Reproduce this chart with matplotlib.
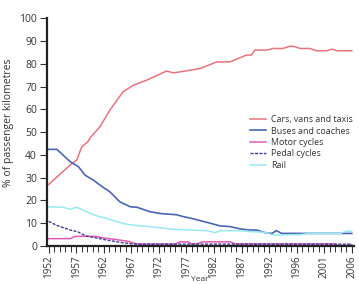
import matplotlib.pyplot as plt
import matplotlib.ticker as mticker

plt.rcParams['font.family'] = ['Open Sans', 'DejaVu Sans']

# x positions are year slots (0 = 1952 ... 55 = 2006)
tick_labels = ['1952', '1957', '1962', '1967', '1972', '1977', '1982',
               '1987', '1992', '1996', '2001', '2006']

cars_x = [0, 3.9, 5.1, 6, 7.1, 7.5, 9.3, 11.1, 13.5, 15.4, 17.8, 21.4, 22.6, 23.8,
          27.5, 30.5, 32.9, 35.9, 36.8, 37.4, 39.6, 40.7, 42.5, 43.8, 44.7, 45.6,
          47.4, 48.6, 50.5, 51.4, 52.3, 55]
cars_y = [27, 35.5, 37.7, 43.5, 45.7, 47.4, 52.3, 59.6, 67.7, 70.6, 72.8, 76.8, 76, 76.4,
          77.9, 80.8, 80.8, 83.8, 83.8, 86, 86, 86.7, 86.7, 87.7, 87.5, 86.7,
          86.7, 85.7, 85.7, 86.4, 85.7, 85.7]

buses_x = [0, 1.5, 3.9, 5.4, 6.6, 8.1, 9.9, 11.1, 12.9, 14.8, 16, 18.4, 20.4, 23.2,
           24.4, 26.6, 27.5, 29.3, 31.1, 32.9, 34.7, 36.5, 37.7, 39.3, 40.5, 41.3,
           42.3, 55]
buses_y = [42.4, 42.4, 37, 34.8, 31.1, 28.9, 25.7, 23.8, 19.4, 17.2, 17, 15, 14.2, 13.7,
           12.9, 11.7, 11.1, 10, 8.8, 8.5, 7.5, 7, 7, 5.8, 5.5, 6.7,
           5.5, 5.5]

motor_x = [0, 3.9, 4.8, 8.5, 10, 12.5, 14.5, 15.5, 16.5, 23, 23.8, 25.3, 26, 27,
           27.9, 33, 33.8, 52, 52.5, 54, 55]
motor_y = [3.2, 3.2, 4.2, 4.2, 3.5, 2.7, 2, 1.2, 0.8, 0.8, 1.8, 1.8, 0.8, 1,
           1.8, 1.8, 0.9, 0.9, 0.2, 0.2, 0.6]

pedal_x = [0, 1.5, 3.9, 5.3, 6.6, 8.1, 10.5, 12.9, 15.4, 55]
pedal_y = [10.8, 9, 7, 6.2, 4.5, 3.8, 2.6, 1.6, 0.8, 0.8]

rail_x = [0, 2.6, 3.9, 5.1, 6.9, 8.7, 10.5, 12.3, 14.2, 16.6, 18.4, 20.4, 22.6, 28.7,
          30.2, 31.1, 34.7, 36.5, 39.3, 40.7, 45.6, 47.4, 52.9, 54.1, 55]
rail_y = [17.2, 17, 16.1, 17, 15, 13.2, 12.1, 10.7, 9.5, 8.8, 8.5, 7.9, 7.3, 6.7,
          5.8, 6.7, 6.7, 6.3, 6, 4.8, 5, 5.5, 5.5, 6.5, 6.5]

fig = plt.figure(figsize=(3.59, 2.84), dpi=100)
ax = fig.add_axes([0.130, 0.134, 0.856, 0.802])

ax.plot(cars_x, cars_y, color='#e8737c', lw=1.1, label='Cars, vans and taxis')
ax.plot(buses_x, buses_y, color='#4a66b2', lw=1.2, label='Buses and coaches')
ax.plot(motor_x, motor_y, color='#e05ab4', lw=1.1, label='Motor cycles')
ax.plot(pedal_x, pedal_y, color='#3b3e92', lw=1.0, ls=(0, (2.2, 1.0)), label='Pedal cycles')
ax.plot(rail_x, rail_y, color='#98e8f2', lw=1.1, label='Rail')

ax.set_xlim(-0.36, 55.4)
ax.set_ylim(0, 100)
ax.set_yticks(range(0, 101, 10))
ax.set_xticks(range(0, 56, 5))
ax.set_xticklabels(tick_labels, rotation=90)
ax.xaxis.set_minor_locator(mticker.MultipleLocator(1))

for s in ['top', 'right']:
    ax.spines[s].set_visible(False)
for s in ['left', 'bottom']:
    ax.spines[s].set_linewidth(1.6)
    ax.spines[s].set_color('#222222')

ax.tick_params(axis='y', length=5, width=0.8, labelsize=7.5, colors='#333333', pad=2)
ax.tick_params(axis='x', which='major', length=5, width=0.8, labelsize=7.1, colors='#333333', pad=2)
ax.tick_params(axis='x', which='minor', length=4, width=0.7, colors='#333333')

ax.set_ylabel('% of passenger kilometres', fontsize=7.5, color='#333333')
ax.yaxis.set_label_coords(-0.105, 0.54)

# x label sits right at the bottom edge, between tick labels, as in the source
fig.text(0.556, 0.002, 'Year', ha='center', va='bottom', fontsize=6.0, color='#333333')

ax.legend(loc='upper left', bbox_to_anchor=(0.685, 0.61), bbox_transform=fig.transFigure,
          frameon=False, fontsize=6.4, handlelength=1.8, handletextpad=0.5,
          labelspacing=0.27, borderpad=0, labelcolor='#333333')

fig.savefig('out.png', dpi=100)
